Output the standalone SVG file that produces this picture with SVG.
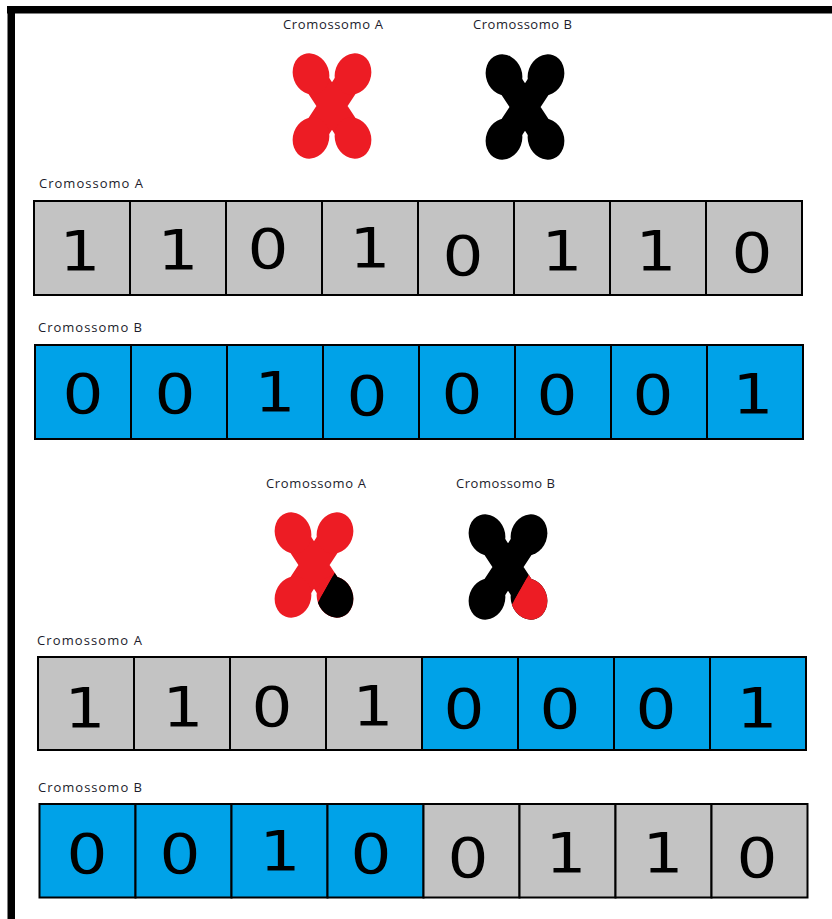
<svg xmlns="http://www.w3.org/2000/svg" xmlns:xlink="http://www.w3.org/1999/xlink" width="832" height="919" viewBox="0 0 832 919">
  <style>
    .frame { fill: #000; }
    .lbl { font-family: "Open Sans", "Liberation Sans", sans-serif; font-size: 13px; fill: #1c1c2c; }
    .cell { stroke: #000; stroke-width: 2; }
    .g { fill: #c3c3c3; }
    .b { fill: #00a2e8; }
    .d { font-family: "DejaVu Sans", "Liberation Sans", sans-serif; font-size: 56px; fill: #000; text-anchor: middle;
         transform-box: fill-box; transform-origin: center; transform: scaleX(1.15); }
  </style>
  <defs>
    <!-- X-shaped chromosome, centred on the origin -->
    <g id="xs" fill="currentColor" stroke="currentColor">
      <path d="M-21,-32 L21,32 M21,-32 L-21,32" stroke-width="26" fill="none"/>
      <rect x="-13" y="-16" width="26" height="32" stroke="none"/>
      <ellipse cx="-21" cy="-32" rx="18" ry="21" transform="rotate(-20 -21 -32)" stroke="none"/>
      <ellipse cx="21" cy="-32" rx="18" ry="21" transform="rotate(20 21 -32)" stroke="none"/>
      <ellipse cx="-21" cy="32" rx="18" ry="21" transform="rotate(20 -21 32)" stroke="none"/>
      <ellipse cx="21" cy="32" rx="18" ry="21" transform="rotate(-20 21 32)" stroke="none"/>
    </g>
    <!-- lower-right arm region that is swapped after crossover -->
    <clipPath id="cutBR">
      <polygon points="41,-28 -11,64 70,64 70,-28"/>
    </clipPath>
  </defs>

  <!-- page frame -->
  <rect class="frame" x="7" y="6" width="825" height="7.5"/>
  <rect class="frame" x="7.5" y="6" width="7.5" height="913"/>

  <!-- parent chromosomes -->
  <g id="chromo-a-top">
    <text class="lbl" x="283" y="29" textLength="100">Cromossomo A</text>
    <use xlink:href="#xs" transform="translate(332,106)" color="#ed1c24"/>
  </g>
  <g id="chromo-b-top">
    <text class="lbl" x="473" y="29" textLength="99">Cromossomo B</text>
    <use xlink:href="#xs" transform="translate(525,107)" color="#000"/>
  </g>

  <!-- parent A genes -->
  <g id="row-a1">
    <text class="lbl" x="39" y="188" textLength="104">Cromossomo A</text>
    <g id="a1-1"><rect class="cell g" x="34" y="201" width="96" height="94"/><text class="d" x="80" y="270">1</text></g>
    <g id="a1-2"><rect class="cell g" x="130" y="201" width="96" height="94"/><text class="d" x="178" y="269">1</text></g>
    <g id="a1-3"><rect class="cell g" x="226" y="201" width="96" height="94"/><text class="d" x="268" y="268">0</text></g>
    <g id="a1-4"><rect class="cell g" x="322" y="201" width="96" height="94"/><text class="d" x="370" y="267">1</text></g>
    <g id="a1-5"><rect class="cell g" x="418" y="201" width="96" height="94"/><text class="d" x="463" y="275">0</text></g>
    <g id="a1-6"><rect class="cell g" x="514" y="201" width="96" height="94"/><text class="d" x="562" y="270">1</text></g>
    <g id="a1-7"><rect class="cell g" x="610" y="201" width="96" height="94"/><text class="d" x="656" y="270">1</text></g>
    <g id="a1-8"><rect class="cell g" x="706" y="201" width="96" height="94"/><text class="d" x="752" y="272">0</text></g>
  </g>

  <!-- parent B genes -->
  <g id="row-b1">
    <text class="lbl" x="38" y="332" textLength="104">Cromossomo B</text>
    <g id="b1-1"><rect class="cell b" x="35" y="345" width="96" height="94"/><text class="d" x="83" y="413">0</text></g>
    <g id="b1-2"><rect class="cell b" x="131" y="345" width="96" height="94"/><text class="d" x="175" y="413">0</text></g>
    <g id="b1-3"><rect class="cell b" x="227" y="345" width="96" height="94"/><text class="d" x="275" y="411">1</text></g>
    <g id="b1-4"><rect class="cell b" x="323" y="345" width="96" height="94"/><text class="d" x="367" y="415">0</text></g>
    <g id="b1-5"><rect class="cell b" x="419" y="345" width="96" height="94"/><text class="d" x="462" y="413">0</text></g>
    <g id="b1-6"><rect class="cell b" x="515" y="345" width="96" height="94"/><text class="d" x="557" y="414">0</text></g>
    <g id="b1-7"><rect class="cell b" x="611" y="345" width="96" height="94"/><text class="d" x="653" y="414">0</text></g>
    <g id="b1-8"><rect class="cell b" x="707" y="345" width="96" height="94"/><text class="d" x="753" y="413">1</text></g>
  </g>

  <!-- offspring chromosomes after crossover -->
  <g id="chromo-a-mid">
    <text class="lbl" x="266" y="488" textLength="100">Cromossomo A</text>
    <g transform="translate(314,565)">
      <use xlink:href="#xs" color="#ed1c24"/>
      <use xlink:href="#xs" color="#000" clip-path="url(#cutBR)"/>
    </g>
  </g>
  <g id="chromo-b-mid">
    <text class="lbl" x="456" y="488" textLength="99">Cromossomo B</text>
    <g transform="translate(508,567)">
      <use xlink:href="#xs" color="#000"/>
      <use xlink:href="#xs" color="#ed1c24" clip-path="url(#cutBR)"/>
    </g>
  </g>

  <!-- offspring A genes -->
  <g id="row-a2">
    <text class="lbl" x="37" y="645" textLength="105">Cromossomo A</text>
    <g id="a2-1"><rect class="cell g" x="38" y="657" width="96" height="93"/><text class="d" x="85" y="727">1</text></g>
    <g id="a2-2"><rect class="cell g" x="134" y="657" width="96" height="93"/><text class="d" x="183" y="726">1</text></g>
    <g id="a2-3"><rect class="cell g" x="230" y="657" width="96" height="93"/><text class="d" x="272" y="726">0</text></g>
    <g id="a2-4"><rect class="cell g" x="326" y="657" width="96" height="93"/><text class="d" x="373" y="725">1</text></g>
    <g id="a2-5"><rect class="cell b" x="422" y="657" width="96" height="93"/><text class="d" x="464" y="728">0</text></g>
    <g id="a2-6"><rect class="cell b" x="518" y="657" width="96" height="93"/><text class="d" x="560" y="728">0</text></g>
    <g id="a2-7"><rect class="cell b" x="614" y="657" width="96" height="93"/><text class="d" x="656" y="728">0</text></g>
    <g id="a2-8"><rect class="cell b" x="710" y="657" width="96" height="93"/><text class="d" x="757" y="727">1</text></g>
  </g>

  <!-- offspring B genes -->
  <g id="row-b2">
    <text class="lbl" x="38" y="792" textLength="104">Cromossomo B</text>
    <g id="b2-1"><rect class="cell b" x="39.5" y="804" width="96" height="93.5"/><text class="d" x="87" y="873">0</text></g>
    <g id="b2-2"><rect class="cell b" x="135.5" y="804" width="96" height="93.5"/><text class="d" x="180" y="873">0</text></g>
    <g id="b2-3"><rect class="cell b" x="231.5" y="804" width="96" height="93.5"/><text class="d" x="280" y="870">1</text></g>
    <g id="b2-4"><rect class="cell b" x="327.5" y="804" width="96" height="93.5"/><text class="d" x="371" y="873">0</text></g>
    <g id="b2-5"><rect class="cell g" x="423.5" y="804" width="96" height="93.5"/><text class="d" x="468" y="877">0</text></g>
    <g id="b2-6"><rect class="cell g" x="519.5" y="804" width="96" height="93.5"/><text class="d" x="566" y="872">1</text></g>
    <g id="b2-7"><rect class="cell g" x="615.5" y="804" width="96" height="93.5"/><text class="d" x="663" y="872">1</text></g>
    <g id="b2-8"><rect class="cell g" x="711.5" y="804" width="96" height="93.5"/><text class="d" x="757" y="877">0</text></g>
  </g>
</svg>
